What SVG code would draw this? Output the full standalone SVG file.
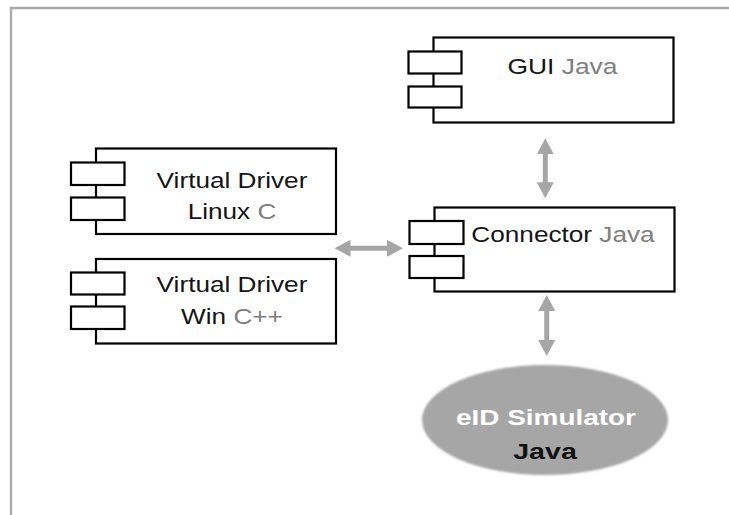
<svg xmlns="http://www.w3.org/2000/svg" width="729" height="515" viewBox="0 0 729 515">
<style>
  .box { fill: #ffffff; stroke: #000000; stroke-width: 2.2; }
  .t { font-family: "Liberation Sans", Arial, sans-serif; font-size: 22px; fill: #141414; text-anchor: middle; }
  .g { fill: #808080; }
  .conn { stroke: #a6a6a6; stroke-width: 5; fill: none; marker-start: url(#ah); marker-end: url(#ah); }
  .et { font-family: "Liberation Sans", Arial, sans-serif; font-size: 22px; font-weight: bold; text-anchor: middle; }
</style>
<defs>
  <marker id="ah" markerUnits="userSpaceOnUse" markerWidth="16" markerHeight="17" refX="6" refY="8.5" orient="auto-start-reverse" viewBox="0 0 16 17">
    <path d="M0,0 L16,8.5 L0,17 Z" fill="#a6a6a6"/>
  </marker>
  <filter id="soft" x="-5%" y="-10%" width="110%" height="120%">
    <feGaussianBlur stdDeviation="1.2"/>
  </filter>
</defs>
<rect x="0" y="0" width="729" height="515" fill="#ffffff"/>
<path d="M11,515 V8 H729" fill="none" stroke="#aaaaaa" stroke-width="2.4"/>

<g id="gui">
  <rect class="box" x="433.5" y="37.5" width="240" height="85"/>
  <rect class="box" x="408.5" y="51.5" width="53" height="22"/>
  <rect class="box" x="408.5" y="86.5" width="53" height="21"/>
  <text class="t" transform="translate(562.5,73.5) scale(1.2,1)">GUI <tspan class="g">Java</tspan></text>
</g>

<g id="connector">
  <rect class="box" x="434.5" y="207.5" width="240" height="84"/>
  <rect class="box" x="409.5" y="221" width="54" height="23"/>
  <rect class="box" x="409.5" y="256" width="54" height="22"/>
  <text class="t" transform="translate(563,241.5) scale(1.19,1)">Connector <tspan class="g">Java</tspan></text>
</g>

<g id="driver-linux">
  <rect class="box" x="96" y="148.5" width="240" height="85.5"/>
  <rect class="box" x="71" y="162.5" width="53.5" height="22.5"/>
  <rect class="box" x="71" y="197.5" width="53.5" height="22.5"/>
  <text class="t" transform="translate(232,187.5) scale(1.19,1)">Virtual Driver</text>
  <text class="t" transform="translate(232,219) scale(1.19,1)">Linux <tspan class="g">C</tspan></text>
</g>

<g id="driver-win">
  <rect class="box" x="96" y="259" width="240" height="84.5"/>
  <rect class="box" x="71" y="272.5" width="53.5" height="22"/>
  <rect class="box" x="71" y="306.5" width="53.5" height="22.5"/>
  <text class="t" transform="translate(232,292) scale(1.19,1)">Virtual Driver</text>
  <text class="t" transform="translate(232,324) scale(1.19,1)">Win <tspan class="g">C++</tspan></text>
</g>

<g id="simulator">
  <ellipse cx="545" cy="420" rx="123" ry="55" fill="#a6a6a6" filter="url(#soft)"/>
  <text class="et" fill="#ffffff" transform="translate(546,424.5) scale(1.27,1)">eID Simulator</text>
  <text class="et" fill="#111111" transform="translate(545,459) scale(1.3,1)">Java</text>
</g>

<g id="connectors">
  <line class="conn" x1="545.3" y1="148.3" x2="545.3" y2="188.3"/>
  <line class="conn" x1="344.5" y1="248.3" x2="393" y2="248.3"/>
  <line class="conn" x1="546.7" y1="305" x2="546.7" y2="346"/>
</g>
</svg>
